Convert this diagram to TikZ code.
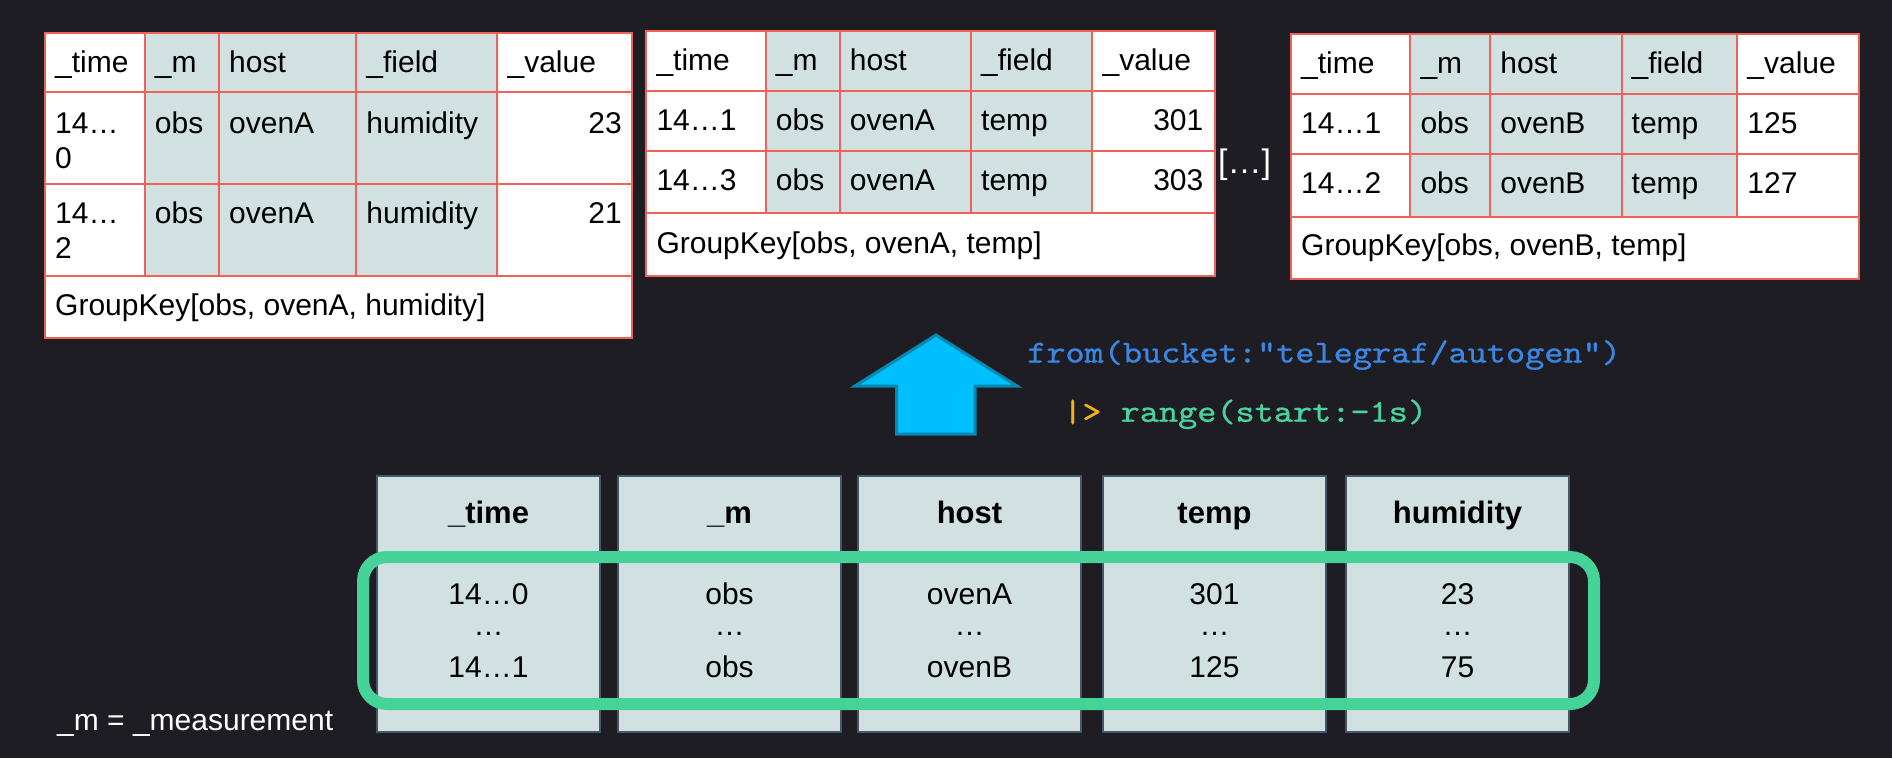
\documentclass[tikz,border=0pt]{standalone}
\usepackage{fontspec}
\setmainfont{Liberation Sans}
\newfontfamily\codefont{lmmono10-regular.otf}[FakeBold=0.9,FakeStretch=1.14]
\definecolor{bg}{HTML}{1E1D23}
\definecolor{cellred}{HTML}{EF6159}
\definecolor{keygrey}{HTML}{D1E1E1}
\definecolor{colline}{HTML}{46566A}
\definecolor{rowgreen}{HTML}{46D39A}
\definecolor{arrowblue}{HTML}{00BFFF}
\definecolor{arrowedge}{HTML}{0B87B0}
\definecolor{codeblue}{HTML}{3A86E3}
\definecolor{codegreen}{HTML}{49D39C}
\definecolor{pipeorange}{HTML}{F5B01A}
\tikzset{
  tabline/.style={draw=cellred,line width=2pt},
  txt/.style={inner sep=0pt,anchor=base west,font=\fontsize{30}{36}\selectfont},
  txtr/.style={txt,anchor=base east},
  colbox/.style={fill=keygrey,draw=colline,line width=1.5pt},
  colhead/.style={inner sep=0pt,anchor=base,font=\fontsize{31}{37}\selectfont\bfseries},
  colval/.style={inner sep=0pt,anchor=base,font=\fontsize{30}{36}\selectfont},
  code/.style={inner sep=0pt,anchor=base west,font=\fontsize{32}{38}\selectfont\codefont},
}
\begin{document}
\begin{tikzpicture}[x=1pt,y=-1pt]
\fill[bg] (0,0) rectangle (1892,758);
\useasboundingbox (0,0) rectangle (1892,758);

% table: obs, ovenA, humidity
\fill[white] (45,32.7) rectangle (632.2,337.7);
\fill[keygrey] (144.7,32.7) rectangle (497.4,275.7);
\foreach \y in {92.3,184,275.7} \draw[tabline] (45,\y) -- (632.2,\y);
\foreach \x in {144.7,219,356.2,497.4} \draw[tabline] (\x,32.7) -- (\x,275.7);
\draw[tabline] (45,32.7) rectangle (632.2,337.7);
\foreach \x/\t [count=\i] in {55/\_time,154.7/\_m,229/host,366.2/\_field,507.4/\_value}
  \node[txt] (a-h\i) at (\x,72.7) {\t};
\foreach \y/\d/\v [count=\i] in {133.3/0/23,223.3/2/21}{
  \node[txt] (a-t\i) at (55,\y) {14…};
  \node[txt] (a-d\i) at (55,\y+35) {\d};
  \node[txt] (a-m\i) at (154.7,\y) {obs};
  \node[txt] (a-o\i) at (229,\y) {ovenA};
  \node[txt] (a-f\i) at (366.2,\y) {humidity};
  \node[txtr] (a-v\i) at (622,\y) {\v};
}
\node[txt] (a-key) at (55,315) {GroupKey[obs, ovenA, humidity]};

% table: obs, ovenA, temp
\fill[white] (646.3,31) rectangle (1214.5,276);
\fill[keygrey] (765.7,31) rectangle (1092.4,213);
\foreach \y in {90.7,151,213} \draw[tabline] (646.3,\y) -- (1214.5,\y);
\foreach \x in {765.7,839.7,971,1092.4} \draw[tabline] (\x,31) -- (\x,213);
\draw[tabline] (646.3,31) rectangle (1214.5,276);
\foreach \x/\t [count=\i] in {656.3/\_time,775.7/\_m,849.7/host,981/\_field,1102.4/\_value}
  \node[txt] (b-h\i) at (\x,70) {\t};
\foreach \y/\tm/\v [count=\i] in {130/14…1/301,190/14…3/303}{
  \node[txt] (b-t\i) at (656.3,\y) {\tm};
  \node[txt] (b-m\i) at (775.7,\y) {obs};
  \node[txt] (b-o\i) at (849.7,\y) {ovenA};
  \node[txt] (b-f\i) at (981,\y) {temp};
  \node[txtr] (b-v\i) at (1203.5,\y) {\v};
}
\node[txt] (b-key) at (656.3,253.3) {GroupKey[obs, ovenA, temp]};

\node[txt,font=\fontsize{34}{40}\selectfont,text=white] (more) at (1218,173) {[…]};

% table: obs, ovenB, temp
\fill[white] (1291,34) rectangle (1859.4,278.7);
\fill[keygrey] (1410.3,34) rectangle (1737.2,216.7);
\foreach \y in {94,154.3,216.7} \draw[tabline] (1291,\y) -- (1859.4,\y);
\foreach \x in {1410.3,1490.2,1621.5,1737.2} \draw[tabline] (\x,34) -- (\x,216.7);
\draw[tabline] (1291,34) rectangle (1859.4,278.7);
\foreach \x/\t [count=\i] in {1301/\_time,1420.3/\_m,1500.2/host,1631.5/\_field,1747.2/\_value}
  \node[txt] (c-h\i) at (\x,73.3) {\t};
\foreach \y/\tm/\v [count=\i] in {133.3/14…1/125,193.3/14…2/127}{
  \node[txt] (c-t\i) at (1301,\y) {\tm};
  \node[txt] (c-m\i) at (1420.3,\y) {obs};
  \node[txt] (c-o\i) at (1500.2,\y) {ovenB};
  \node[txt] (c-f\i) at (1631.5,\y) {temp};
  \node[txt] (c-v\i) at (1747.2,\y) {\v};
}
\node[txt] (c-key) at (1301,255) {GroupKey[obs, ovenB, temp]};

% arrow and query
\draw[arrowedge,line width=3pt,fill=arrowblue] (936,335) -- (1017,386) -- (975,386) -- (975,434)
  -- (896.5,434) -- (896.5,386) -- (855,386) -- cycle;
\node[code,text=codeblue] (from) at (1027,362.5) {from(bucket:"telegraf/autogen")};
\node[code,text=codegreen] (range) at (1063,421.7) {\textcolor{pipeorange}{|>} range(start:-1s)};

% raw data columns
\foreach \x/\h/\a/\b [count=\i] in {377/\_time/14…0/14…1,618/\_m/obs/obs,858/host/ovenA/ovenB,
    1103/temp/301/125,1346/humidity/23/75}{
  \fill[colbox] (\x,476) rectangle ++(223,256);
  \node[colhead] (col\i) at (\x+111.5,523) {\h};
  \node[colval] (first\i) at (\x+111.5,604) {\a};
  \node[colval] (dots\i) at (\x+111.5,635) {…};
  \node[colval] (last\i) at (\x+111.5,677) {\b};
}
\draw[rowgreen,line width=12pt,rounded corners=24pt] (363,557) rectangle (1594,704);
\node[txt,text=white] (note) at (57,730) {\_m = \_measurement};
\end{tikzpicture}
\end{document}
